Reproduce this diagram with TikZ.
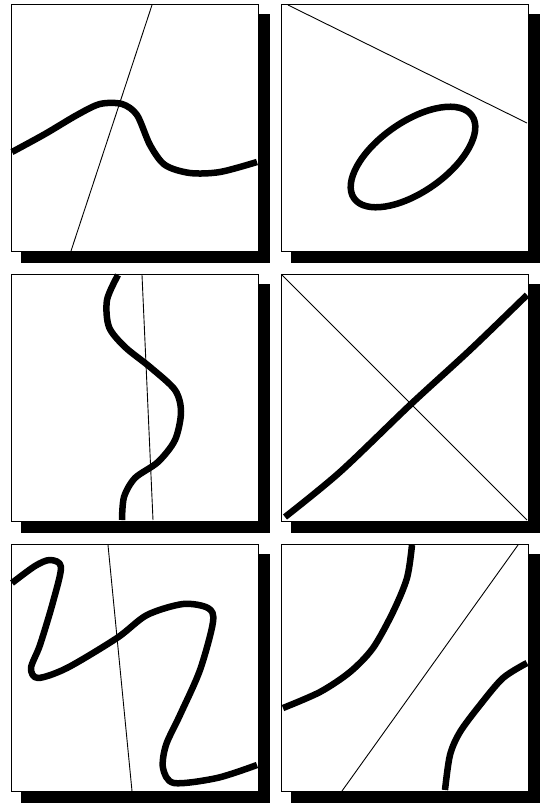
\documentclass[tikz,border=0pt]{standalone}
\usepackage{tikz}

\begin{document}
\begin{tikzpicture}[
    x=1pt,
    y=-1pt,
    frame/.style={draw=black, fill=white, line width=1pt},
    shadow/.style={fill=black},
    contour/.style={draw=black, line width=6.5pt, line join=round},
    cut/.style={draw=black, line width=0.9pt}
  ]
    \useasboundingbox (0,0) rectangle (541,804);
    % boxes with drop shadow
    \foreach \x in {11,281} {
      \foreach \y in {4,274,544} {
        \fill[shadow] (\x+10,\y+10) rectangle ++(249,249);
        \draw[frame] (\x,\y) rectangle ++(247,247);
      }
    }
    % top row
    \draw[cut] (152,5) -- (71,251);
    \draw[contour] plot[smooth] coordinates {(12,152) (45,134) (77,115) (100,104)
      (122,104) (137,115) (150,145) (165,165) (190,173) (220,172) (257,162)};
    \draw[cut] (288,5) -- (527,123);
    \draw[contour] (413,157) ellipse [x radius=72, y radius=35, rotate=35];
    % middle row
    \draw[cut] (142,275) -- (153,520);
    \draw[contour] plot[smooth] coordinates {(118,275) (107,300) (109,327) (125,347)
      (150,367) (175,390) (181,412) (175,440) (158,462) (135,478) (124,497) (122,520)};
    \draw[cut] (282,275) -- (527,520);
    \draw[contour] plot[smooth] coordinates {(285,517) (340,472) (410,405)
      (470,350) (527,295)};
    % bottom row
    \draw[cut] (108,545) -- (132,791);
    \draw[contour] plot[smooth] coordinates {(12,583) (35,566) (50,560) (61,567)
      (53,602) (40,645) (31,668) (38,678) (67,668) (117,638) (147,615) (183,604)
      (208,608) (213,622) (200,670) (180,715) (166,745) (163,768) (174,783)
      (217,778) (257,765)};
    \draw[cut] (518,545) -- (342,791);
    \draw[contour] plot[smooth] coordinates {(412,545) (407,578) (393,612) (373,648)
      (350,672) (320,692) (283,708)};
    \draw[contour] plot[smooth] coordinates {(527,663) (503,678) (480,705) (460,732)
      (450,755) (445,790)};
\end{tikzpicture}
\end{document}
